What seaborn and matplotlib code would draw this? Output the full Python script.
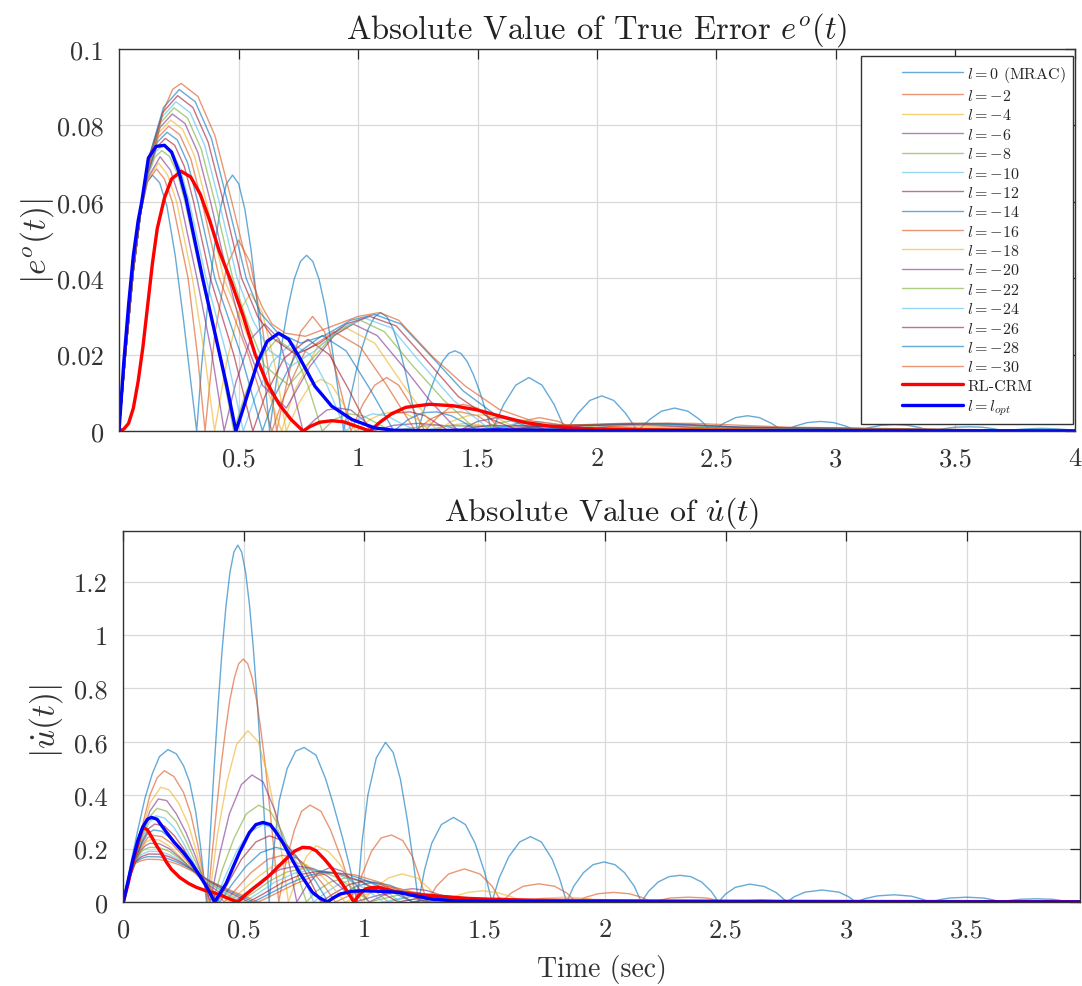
import matplotlib
matplotlib.use("Agg")
import numpy as np
import matplotlib.pyplot as plt
from matplotlib.lines import Line2D
from matplotlib.legend_handler import HandlerLine2D
import seaborn as sns
import pandas as pd

# ---------------- data ----------------
LEVELS = [0, -2, -4, -6, -8, -10, -12, -14, -16, -18, -20, -22, -24, -26, -28, -30]
LEGEND_LABELS = [r"$l = 0$ (MRAC)"] + [r"$l = %d$" % v for v in LEVELS[1:]] + ["RL-CRM", r"$l = l_{opt}$"]
CYCLE = ["#0072BD", "#D95319", "#EDB120", "#7E2F8E", "#77AC30", "#4DBEEE", "#A2142F"]

# |e^o(t)| curves (t, value)
E_L0 = [(0,0),(0.03,0.022),(0.06,0.042),(0.09,0.057),(0.115,0.065),(0.14,0.067),(0.17,0.065),(0.20,0.059),(0.235,0.046),(0.27,0.029),(0.30,0.013),(0.325,0),
        (0.3458,0.0173),(0.3717,0.0335),(0.3975,0.0474),(0.4233,0.058),(0.4492,0.0647),(0.475,0.067),(0.5008,0.0647),(0.5267,0.058),(0.5525,0.0474),(0.5783,0.0335),(0.6042,0.0173),(0.63,0),
        (0.6558,0.0119),(0.6817,0.023),(0.7075,0.0325),(0.7333,0.0398),(0.7592,0.0444),(0.785,0.046),(0.8108,0.0444),(0.8367,0.0398),(0.8625,0.0325),(0.8883,0.023),(0.9142,0.0119),(0.94,0),
        (0.9658,0.008),(0.9917,0.0155),(1.0175,0.0219),(1.0433,0.0268),(1.0692,0.0299),(1.095,0.031),(1.1208,0.0299),(1.1467,0.0268),(1.1725,0.0219),(1.1983,0.0155),(1.2242,0.008),(1.25,0),
        (1.2758,0.0054),(1.3017,0.0105),(1.3275,0.0148),(1.3533,0.0182),(1.3792,0.0203),(1.405,0.021),(1.4308,0.0203),(1.4567,0.0182),(1.4825,0.0148),(1.5083,0.0105),(1.5342,0.0054),(1.56,0),
        (1.61,0.007),(1.66,0.012),(1.715,0.014),(1.77,0.012),(1.82,0.007),(1.87,0),
        (1.92,0.0046),(1.97,0.008),(2.02,0.0092),(2.07,0.008),(2.12,0.0046),(2.17,0),
        (2.22,0.003),(2.27,0.0052),(2.325,0.006),(2.38,0.0052),(2.43,0.003),(2.48,0),
        (2.53,0.002),(2.58,0.0035),(2.63,0.004),(2.68,0.0035),(2.73,0.002),(2.78,0),
        (2.83,0.0013),(2.88,0.0022),(2.935,0.0025),(2.99,0.0022),(3.04,0.0013),(3.09,0),
        (3.14,0.0009),(3.19,0.0015),(3.245,0.0017),(3.30,0.0015),(3.35,0.0009),(3.40,0),
        (3.45,0.0006),(3.50,0.001),(3.555,0.0011),(3.61,0.001),(3.66,0.0006),(3.71,0),
        (3.76,0.0004),(3.81,0.0006),(3.86,0.0007),(3.91,0.0006),(3.96,0.0004),(4.0,0.0002)]
E_L2 = [(0,0),(0.03,0.022),(0.06,0.042),(0.09,0.057),(0.12,0.0654),(0.157,0.0686),(0.19,0.066),(0.223,0.06),(0.289,0.04),(0.328,0.02),(0.36,0),
        (0.40,0.025),(0.45,0.043),(0.50,0.050),(0.55,0.044),(0.60,0.027),(0.66,0),(0.71,0.015),(0.76,0.026),(0.81,0.030),(0.86,0.026),(0.91,0.015),(0.97,0),
        (1.02,0.007),(1.07,0.012),(1.12,0.014),(1.17,0.012),(1.22,0.007),(1.28,0),(1.33,0.0035),(1.38,0.006),(1.44,0.007),(1.50,0.006),(1.55,0.0035),(1.60,0),
        (1.68,0.0025),(1.76,0.0035),(1.84,0.0025),(1.92,0),(2.05,0.0012),(2.2,0.0015),(2.35,0.001),(2.5,0.0005),(3.0,0.0002),(4.0,0)]
E_L4 = [(0,0),(0.03,0.022),(0.06,0.042),(0.09,0.057),(0.12,0.0658),(0.165,0.0702),(0.203,0.0671),(0.241,0.06),(0.307,0.04),(0.358,0.02),(0.40,0),
        (0.45,0.018),(0.50,0.031),(0.55,0.036),(0.60,0.031),(0.65,0.018),(0.70,0),(0.75,0.007),(0.80,0.012),(0.845,0.0135),(0.89,0.012),(0.94,0.007),(0.99,0),
        (1.05,0.003),(1.10,0.0045),(1.15,0.005),(1.2,0.0045),(1.25,0.003),(1.30,0),(1.38,0.0015),(1.45,0.002),(1.52,0.0015),(1.6,0),(1.8,0.0008),(2.2,0.0005),(4.0,0)]
E_L6 = [(0,0),(0.03,0.022),(0.06,0.042),(0.09,0.057),(0.12,0.0662),(0.172,0.0718),(0.215,0.0683),(0.258,0.06),(0.326,0.04),(0.389,0.02),(0.44,0),
        (0.49,0.013),(0.55,0.024),(0.61,0.028),(0.67,0.024),(0.72,0.013),(0.77,0),(0.82,0.003),(0.87,0.0055),(0.92,0.006),(0.97,0.0055),(1.02,0.003),(1.06,0),
        (1.15,0.0015),(1.25,0.002),(1.35,0.0015),(1.45,0),(1.8,0.0008),(4.0,0)]
E_L8 = [(0,0),(0.03,0.022),(0.06,0.042),(0.09,0.057),(0.12,0.0666),(0.15,0.0717),(0.179,0.0734),(0.211,0.0719),(0.244,0.0675),(0.276,0.06),(0.345,0.04),(0.419,0.02),(0.48,0),
        (0.53,0.010),(0.59,0.019),(0.66,0.024),(0.73,0.021),(0.79,0.012),(0.85,0),(0.90,0.003),(0.96,0.0045),(1.02,0.004),(1.08,0.002),(1.14,0),
        (1.3,0.0015),(1.5,0.0012),(1.8,0.0005),(4.0,0)]
E_L10 = [(0,0),(0.03,0.022),(0.06,0.042),(0.09,0.057),(0.12,0.067),(0.153,0.073),(0.186,0.075),(0.222,0.0733),(0.258,0.0684),(0.294,0.06),(0.364,0.04),(0.45,0.02),(0.52,0),
         (0.57,0.009),(0.64,0.018),(0.72,0.023),(0.80,0.020),(0.87,0.012),(0.95,0),(1.0,0.003),(1.06,0.0045),(1.12,0.004),(1.18,0.002),(1.25,0),
         (1.4,0.0015),(1.6,0.0012),(1.9,0.0005),(4.0,0)]
E_L12 = [(0,0),(0.03,0.022),(0.06,0.042),(0.09,0.057),(0.12,0.0674),(0.157,0.0743),(0.194,0.0766),(0.233,0.0748),(0.273,0.0693),(0.312,0.06),(0.382,0.04),(0.48,0.02),(0.56,0),
         (0.61,0.009),(0.69,0.019),(0.79,0.024),(0.88,0.020),(0.96,0.011),(1.05,0),(1.10,0.003),(1.16,0.0048),(1.22,0.005),(1.28,0.004),(1.33,0.002),(1.38,0),
         (1.55,0.0015),(1.75,0.0012),(2.0,0.0006),(4.0,0)]
E_L14 = [(0,0),(0.03,0.022),(0.06,0.042),(0.09,0.057),(0.12,0.0678),(0.16,0.0756),(0.201,0.0782),(0.244,0.0762),(0.287,0.0702),(0.330,0.06),(0.401,0.04),(0.51,0.02),(0.60,0),
         (0.65,0.009),(0.74,0.020),(0.85,0.025),(0.95,0.021),(1.05,0.011),(1.15,0),(1.21,0.003),(1.27,0.0048),(1.33,0.005),(1.39,0.004),(1.45,0.002),(1.50,0),
         (1.65,0.0015),(1.85,0.0012),(2.1,0.0006),(4.0,0)]
E_L16 = [(0,0),(0.03,0.022),(0.06,0.042),(0.09,0.057),(0.12,0.0682),(0.164,0.0769),(0.208,0.0798),(0.254,0.0776),(0.301,0.0711),(0.347,0.06),(0.42,0.04),(0.541,0.02),(0.64,0),
         (0.69,0.009),(0.78,0.021),(0.90,0.026),(1.01,0.022),(1.12,0.012),(1.24,0),(1.30,0.003),(1.36,0.0048),(1.43,0.005),(1.50,0.004),(1.55,0.002),(1.60,0),
         (1.75,0.0015),(1.95,0.0015),(2.2,0.0007),(4.0,0)]
E_L18 = [(0,0),(0.03,0.022),(0.06,0.042),(0.09,0.057),(0.12,0.0686),(0.168,0.0782),(0.216,0.0814),(0.266,0.079),(0.316,0.072),(0.365,0.06),(0.438,0.04),(0.571,0.02),(0.68,0),
         (0.73,0.01),(0.83,0.022),(0.95,0.027),(1.07,0.023),(1.19,0.012),(1.33,0),(1.39,0.0025),(1.46,0.004),(1.52,0.0042),(1.58,0.0035),(1.64,0.0015),(1.70,0),
         (1.85,0.0015),(2.05,0.0018),(2.3,0.0008),(4.0,0)]
E_L20 = [(0,0),(0.03,0.022),(0.06,0.042),(0.09,0.057),(0.12,0.069),(0.172,0.0795),(0.223,0.083),(0.276,0.0805),(0.33,0.0729),(0.383,0.06),(0.457,0.04),(0.52,0.025),(0.60,0.012),
         (0.70,0.006),(0.80,0.017),(0.90,0.025),(0.98,0.028),(1.08,0.025),(1.2,0.016),(1.3,0.008),(1.42,0),(1.50,0.0025),(1.58,0.0035),(1.66,0.003),(1.73,0.0015),
         (1.80,0),(1.95,0.0015),(2.15,0.002),(2.4,0.001),(4.0,0)]
E_L22 = [(0,0),(0.03,0.022),(0.06,0.042),(0.09,0.057),(0.12,0.0694),(0.175,0.0808),(0.230,0.0846),(0.287,0.0819),(0.344,0.0738),(0.401,0.06),(0.476,0.04),(0.54,0.028),(0.61,0.017),
         (0.71,0.012),(0.81,0.019),(0.91,0.026),(1.01,0.029),(1.11,0.026),(1.23,0.017),(1.36,0.008),(1.50,0),(1.58,0.002),(1.67,0.003),(1.76,0.002),(1.85,0),
         (2.0,0.0015),(2.2,0.002),(2.5,0.001),(4.0,0)]
E_L24 = [(0,0),(0.03,0.022),(0.06,0.042),(0.09,0.057),(0.12,0.0698),(0.179,0.0821),(0.238,0.0862),(0.298,0.0833),(0.359,0.0747),(0.419,0.06),(0.494,0.04),(0.56,0.029),(0.63,0.021),
         (0.72,0.017),(0.82,0.021),(0.93,0.027),(1.03,0.0295),(1.14,0.027),(1.26,0.018),(1.40,0.008),(1.56,0),(1.65,0.0018),(1.75,0.0025),(1.85,0.0015),(1.92,0),
         (2.05,0.0015),(2.25,0.002),(2.55,0.001),(4.0,0)]
E_L26 = [(0,0),(0.03,0.022),(0.06,0.042),(0.09,0.057),(0.12,0.0702),(0.183,0.0834),(0.245,0.0878),(0.309,0.0847),(0.373,0.0756),(0.437,0.06),(0.513,0.04),(0.58,0.030),(0.65,0.024),
         (0.74,0.020),(0.84,0.023),(0.95,0.028),(1.05,0.030),(1.16,0.0275),(1.28,0.019),(1.42,0.009),(1.56,0.003),(1.66,0.0005),(1.80,0.0015),(2.0,0.0015),
         (2.3,0.002),(2.6,0.001),(4.0,0)]
E_L28 = [(0,0),(0.03,0.022),(0.06,0.042),(0.09,0.057),(0.12,0.0706),(0.186,0.0847),(0.252,0.0894),(0.319,0.0862),(0.387,0.0765),(0.454,0.06),(0.532,0.04),(0.59,0.031),(0.66,0.026),
         (0.76,0.023),(0.86,0.025),(0.97,0.029),(1.07,0.0305),(1.18,0.028),(1.30,0.02),(1.44,0.0105),(1.58,0.004),(1.72,0.001),(1.9,0.0015),(2.2,0.002),(2.6,0.001),(4.0,0)]
E_L30 = [(0,0),(0.03,0.022),(0.06,0.042),(0.09,0.057),(0.12,0.071),(0.15,0.076),(0.19,0.0845),(0.225,0.0895),(0.26,0.091),(0.33,0.0876),(0.401,0.0774),(0.472,0.06),(0.55,0.04),(0.598,0.0326),
         (0.64,0.028),(0.696,0.0256),(0.78,0.0248),(0.89,0.0274),(1.0,0.030),(1.09,0.031),(1.17,0.029),(1.31,0.0196),(1.45,0.0117),(1.59,0.0057),(1.73,0.0026),
         (1.87,0.0015),(2.1,0.002),(2.4,0.002),(2.8,0.001),(4.0,0)]
E_RL = [(0,0),(0.02,0.0005),(0.04,0.002),(0.06,0.006),(0.08,0.013),(0.10,0.022),(0.12,0.033),(0.14,0.044),(0.16,0.053),(0.19,0.061),(0.22,0.066),(0.26,0.068),
        (0.30,0.0665),(0.34,0.062),(0.38,0.055),(0.42,0.047),(0.47,0.039),(0.52,0.030),(0.57,0.020),(0.62,0.0125),(0.67,0.007),(0.72,0.003),(0.77,0),
        (0.80,0.0012),(0.84,0.0023),(0.89,0.0027),(0.94,0.0024),(0.99,0.0013),(1.05,0),(1.09,0.0022),(1.14,0.0045),(1.20,0.0062),(1.30,0.0070),(1.40,0.0066),
        (1.50,0.0055),(1.60,0.0038),(1.70,0.0022),(1.80,0.0013),(1.90,0.0008),(2.0,0.0005),(2.3,0.0002),(2.8,0.0001),(4.0,0)]
E_OPT = [(0,0),(0.02,0.018),(0.04,0.033),(0.06,0.046),(0.08,0.055),(0.095,0.060),(0.123,0.0715),(0.155,0.0745),(0.19,0.0748),(0.22,0.073),(0.25,0.068),(0.28,0.061),
         (0.31,0.052),(0.35,0.040),(0.40,0.026),(0.45,0.012),(0.489,0),(0.51,0.004),(0.54,0.010),(0.58,0.018),(0.62,0.0235),(0.668,0.0256),(0.71,0.024),(0.752,0.0196),
         (0.82,0.0117),(0.89,0.0065),(0.975,0.003),(1.07,0.0008),(1.15,0.0002),(1.3,0.0001),(1.6,0.0003),(2.0,0.0001),(4.0,0)]

# |u_dot(t)| curves (t, value)
U_L0 = [(0,0),(0.03,0.14),(0.06,0.27),(0.09,0.39),(0.12,0.48),(0.15,0.545),(0.185,0.571),(0.22,0.555),(0.25,0.51),(0.275,0.45),(0.30,0.34),(0.32,0.21),(0.345,0),
        (0.36125,0.261),(0.3775,0.512),(0.39375,0.743),(0.41,0.945),(0.42625,1.111),(0.4425,1.235),(0.45875,1.311),(0.475,1.337),
        (0.49125,1.311),(0.5075,1.235),(0.52375,1.111),(0.54,0.945),(0.55625,0.743),(0.5725,0.512),(0.58875,0.261),(0.605,0),
        (0.625,0.2),(0.647,0.38),(0.68,0.50),(0.715,0.565),(0.75,0.579),(0.80,0.55),(0.84,0.46),(0.87,0.37),(0.91,0.24),(0.94,0.13),(0.97,0),
        (0.99,0.22),(1.015,0.40),(1.05,0.54),(1.088,0.598),(1.12,0.56),(1.15,0.46),(1.18,0.30),(1.205,0.14),(1.225,0),
        (1.25,0.12),(1.28,0.22),(1.32,0.29),(1.37,0.317),(1.42,0.29),(1.46,0.22),(1.50,0.11),(1.53,0),
        (1.56,0.09),(1.60,0.17),(1.645,0.225),(1.69,0.245),(1.735,0.225),(1.78,0.16),(1.81,0.09),(1.84,0),
        (1.87,0.06),(1.91,0.11),(1.95,0.14),(1.995,0.15),(2.04,0.14),(2.08,0.11),(2.12,0.06),(2.15,0),
        (2.18,0.04),(2.22,0.075),(2.265,0.095),(2.31,0.10),(2.355,0.095),(2.40,0.075),(2.44,0.04),(2.47,0),
        (2.50,0.03),(2.54,0.055),(2.60,0.067),(2.66,0.058),(2.71,0.035),(2.755,0),
        (2.785,0.02),(2.83,0.037),(2.90,0.045),(2.97,0.037),(3.01,0.02),(3.04,0),
        (3.08,0.013),(3.13,0.023),(3.20,0.027),(3.27,0.022),(3.31,0.012),(3.35,0),
        (3.39,0.009),(3.43,0.015),(3.50,0.018),(3.57,0.015),(3.61,0.008),(3.64,0),
        (3.68,0.006),(3.72,0.01),(3.79,0.012),(3.86,0.01),(3.89,0.006),(3.92,0),(3.97,0.005)]
U_L2 = [(0,0),(0.025,0.09),(0.05,0.17),(0.08,0.29),(0.11,0.40),(0.14,0.465),(0.17,0.492),(0.21,0.47),(0.25,0.41),(0.28,0.33),(0.31,0.21),(0.33,0.11),(0.35,0),
        (0.368,0.177),(0.387,0.35),(0.405,0.506),(0.424,0.643),(0.442,0.756),(0.461,0.841),(0.479,0.893),(0.4975,0.91),
        (0.516,0.893),(0.534,0.841),(0.553,0.756),(0.571,0.643),(0.59,0.506),(0.608,0.35),(0.627,0.177),(0.645,0),
        (0.675,0.15),(0.71,0.27),(0.74,0.34),(0.775,0.363),(0.82,0.34),(0.86,0.27),(0.91,0.15),(0.96,0),
        (0.99,0.10),(1.03,0.19),(1.07,0.24),(1.113,0.251),(1.16,0.23),(1.20,0.17),(1.23,0.09),(1.26,0),
        (1.30,0.06),(1.35,0.105),(1.416,0.124),(1.48,0.105),(1.53,0.06),(1.57,0),
        (1.61,0.034),(1.66,0.059),(1.725,0.068),(1.79,0.059),(1.84,0.034),(1.88,0),
        (1.92,0.018),(1.97,0.031),(2.035,0.036),(2.10,0.031),(2.15,0.018),(2.19,0),
        (2.27,0.015),(2.345,0.018),(2.42,0.015),(2.5,0),(2.65,0.008),(2.8,0),(2.95,0.004),(3.1,0),(3.97,0.001)]
U_L4 = [(0,0),(0.025,0.09),(0.05,0.16),(0.08,0.27),(0.11,0.37),(0.155,0.43),(0.19,0.42),(0.23,0.37),(0.27,0.29),(0.30,0.20),(0.33,0.10),(0.355,0),
        (0.39,0.25),(0.43,0.45),(0.47,0.59),(0.517,0.642),(0.56,0.6),(0.60,0.47),(0.645,0.26),(0.685,0),
        (0.72,0.09),(0.76,0.17),(0.80,0.211),(0.85,0.19),(0.90,0.14),(0.95,0.07),(0.99,0),
        (1.04,0.05),(1.10,0.09),(1.157,0.105),(1.22,0.09),(1.27,0.05),(1.32,0),
        (1.37,0.02),(1.43,0.036),(1.49,0.042),(1.55,0.036),(1.61,0.02),(1.66,0),
        (1.74,0.014),(1.83,0.018),(1.92,0.014),(2.0,0),(2.15,0.006),(2.3,0),(3.97,0.001)]
U_L6 = [(0,0),(0.025,0.09),(0.05,0.16),(0.08,0.26),(0.11,0.34),(0.145,0.386),(0.18,0.38),(0.22,0.33),(0.26,0.26),(0.30,0.17),(0.33,0.09),(0.36,0),
        (0.40,0.18),(0.44,0.33),(0.49,0.44),(0.534,0.476),(0.58,0.45),(0.63,0.34),(0.68,0.18),(0.72,0),
        (0.76,0.06),(0.81,0.11),(0.86,0.13),(0.91,0.115),(0.97,0.06),(1.02,0),
        (1.08,0.025),(1.14,0.043),(1.2,0.05),(1.26,0.043),(1.32,0.025),(1.38,0),
        (1.48,0.01),(1.56,0.015),(1.65,0.01),(1.75,0),(3.97,0.001)]
U_L8 = [(0,0),(0.025,0.09),(0.05,0.155),(0.08,0.25),(0.11,0.32),(0.14,0.351),(0.18,0.34),(0.22,0.30),(0.26,0.23),(0.30,0.15),(0.34,0.07),(0.37,0),
        (0.41,0.12),(0.46,0.24),(0.51,0.33),(0.562,0.363),(0.61,0.34),(0.66,0.26),(0.71,0.14),(0.76,0),
        (0.8,0.04),(0.86,0.075),(0.92,0.09),(0.98,0.08),(1.04,0.045),(1.1,0),
        (1.19,0.02),(1.27,0.03),(1.36,0.02),(1.45,0),(1.6,0.006),(3.97,0.001)]
U_L10 = [(0,0),(0.025,0.09),(0.05,0.155),(0.08,0.24),(0.105,0.295),(0.135,0.323),(0.17,0.315),(0.21,0.28),(0.25,0.22),(0.29,0.15),(0.33,0.08),(0.38,0),
         (0.42,0.09),(0.47,0.19),(0.52,0.26),(0.58,0.29),(0.64,0.27),(0.69,0.2),(0.74,0.11),(0.79,0),
         (0.84,0.035),(0.90,0.07),(0.96,0.085),(1.03,0.07),(1.09,0.04),(1.15,0),
         (1.24,0.016),(1.32,0.025),(1.41,0.016),(1.5,0),(1.65,0.005),(3.97,0.001)]
U_L12 = [(0,0),(0.025,0.09),(0.05,0.155),(0.08,0.23),(0.105,0.275),(0.13,0.292),(0.17,0.285),(0.21,0.25),(0.25,0.2),(0.29,0.14),(0.33,0.085),(0.36,0.045),(0.39,0),
         (0.44,0.08),(0.49,0.16),(0.55,0.225),(0.606,0.248),(0.66,0.23),(0.72,0.17),(0.77,0.09),(0.82,0),
         (0.87,0.03),(0.94,0.066),(1.0,0.08),(1.07,0.066),(1.14,0.035),(1.2,0),
         (1.28,0.013),(1.37,0.02),(1.46,0.013),(1.55,0),(1.7,0.004),(3.97,0.001)]
U_L14 = [(0,0),(0.025,0.09),(0.05,0.155),(0.075,0.215),(0.10,0.255),(0.125,0.27),(0.16,0.265),(0.20,0.235),(0.24,0.19),(0.28,0.14),(0.32,0.09),(0.36,0.05),(0.40,0),
         (0.45,0.065),(0.51,0.135),(0.57,0.185),(0.634,0.205),(0.69,0.19),(0.75,0.14),(0.80,0.075),(0.85,0),
         (0.91,0.03),(0.97,0.06),(1.04,0.075),(1.11,0.062),(1.18,0.033),(1.25,0),
         (1.33,0.011),(1.42,0.017),(1.51,0.011),(1.6,0),(1.75,0.004),(3.97,0.001)]
U_L16 = [(0,0),(0.025,0.09),(0.05,0.155),(0.075,0.205),(0.10,0.24),(0.12,0.25),(0.16,0.245),(0.20,0.22),(0.24,0.18),(0.28,0.135),(0.32,0.09),(0.37,0.045),(0.42,0),
         (0.47,0.05),(0.53,0.11),(0.60,0.16),(0.66,0.175),(0.72,0.165),(0.78,0.12),(0.83,0.065),(0.88,0),
         (0.94,0.025),(1.01,0.05),(1.08,0.06),(1.15,0.05),(1.23,0.025),(1.3,0),
         (1.4,0.01),(1.5,0.014),(1.6,0.008),(1.7,0),(3.97,0.001)]
U_L18 = [(0,0),(0.025,0.09),(0.05,0.155),(0.075,0.2),(0.095,0.225),(0.115,0.235),(0.15,0.232),(0.19,0.21),(0.23,0.175),(0.27,0.135),(0.31,0.095),(0.36,0.05),(0.44,0),
         (0.49,0.04),(0.56,0.095),(0.62,0.135),(0.69,0.15),(0.76,0.14),(0.82,0.1),(0.87,0.055),(0.92,0),
         (0.98,0.02),(1.05,0.042),(1.12,0.05),(1.19,0.042),(1.27,0.02),(1.34,0),
         (1.45,0.008),(1.55,0.011),(1.65,0.006),(1.75,0),(3.97,0.001)]
U_L20 = [(0,0),(0.025,0.09),(0.05,0.155),(0.075,0.195),(0.09,0.21),(0.11,0.22),(0.15,0.218),(0.19,0.2),(0.23,0.17),(0.27,0.135),(0.31,0.1),(0.36,0.06),(0.41,0.03),(0.46,0),
         (0.51,0.035),(0.58,0.085),(0.65,0.122),(0.72,0.135),(0.79,0.125),(0.85,0.095),(0.91,0.05),(0.96,0),
         (1.03,0.018),(1.10,0.035),(1.16,0.04),(1.23,0.034),(1.31,0.016),(1.38,0),
         (1.5,0.006),(1.6,0.008),(1.7,0.004),(1.8,0),(3.97,0.001)]
U_L22 = [(0,0),(0.025,0.09),(0.05,0.155),(0.075,0.188),(0.09,0.198),(0.11,0.205),(0.15,0.203),(0.19,0.19),(0.23,0.165),(0.27,0.135),(0.31,0.105),(0.36,0.068),(0.42,0.034),(0.48,0),
         (0.54,0.035),(0.61,0.08),(0.68,0.113),(0.75,0.125),(0.82,0.117),(0.89,0.09),(0.96,0.048),(1.02,0),
         (1.09,0.015),(1.15,0.028),(1.21,0.032),(1.28,0.027),(1.35,0.013),(1.42,0),
         (1.55,0.005),(1.65,0.006),(1.75,0.003),(1.85,0),(3.97,0.001)]
U_L24 = [(0,0),(0.025,0.09),(0.05,0.152),(0.075,0.178),(0.105,0.19),(0.15,0.189),(0.19,0.178),(0.23,0.158),(0.27,0.133),(0.31,0.106),(0.36,0.072),(0.42,0.038),(0.50,0),
         (0.56,0.033),(0.63,0.075),(0.71,0.108),(0.78,0.12),(0.86,0.112),(0.94,0.085),(1.01,0.045),(1.08,0),
         (1.14,0.012),(1.2,0.022),(1.26,0.026),(1.33,0.022),(1.40,0.011),(1.46,0),
         (1.6,0.004),(1.7,0.005),(1.8,0.002),(1.9,0),(3.97,0.001)]
U_L26 = [(0,0),(0.025,0.09),(0.05,0.15),(0.075,0.17),(0.105,0.18),(0.15,0.179),(0.19,0.17),(0.23,0.153),(0.27,0.131),(0.31,0.107),(0.36,0.076),(0.43,0.04),(0.52,0),
         (0.58,0.03),(0.66,0.073),(0.74,0.104),(0.81,0.115),(0.89,0.107),(0.98,0.08),(1.06,0.042),(1.14,0),
         (1.2,0.01),(1.25,0.017),(1.31,0.02),(1.38,0.017),(1.44,0.009),(1.5,0),
         (1.65,0.003),(1.75,0.004),(1.85,0.002),(1.95,0),(3.97,0.001)]
U_L28 = [(0,0),(0.025,0.09),(0.05,0.148),(0.075,0.163),(0.10,0.17),(0.15,0.169),(0.19,0.161),(0.23,0.147),(0.27,0.128),(0.31,0.107),(0.36,0.078),(0.44,0.041),(0.54,0),
         (0.60,0.028),(0.69,0.07),(0.77,0.1),(0.84,0.112),(0.93,0.104),(1.02,0.077),(1.11,0.04),(1.2,0),
         (1.27,0.008),(1.32,0.013),(1.37,0.015),(1.43,0.012),(1.49,0.006),(1.55,0),
         (1.7,0.002),(1.85,0.003),(2.0,0.001),(3.97,0.0005)]
U_L30 = [(0,0),(0.025,0.09),(0.05,0.145),(0.075,0.155),(0.10,0.16),(0.15,0.159),(0.19,0.152),(0.23,0.14),(0.27,0.123),(0.31,0.104),(0.36,0.078),(0.45,0.042),(0.56,0),
         (0.62,0.026),(0.71,0.066),(0.79,0.097),(0.87,0.11),(0.96,0.102),(1.06,0.075),(1.16,0.038),(1.26,0),
         (1.32,0.006),(1.37,0.01),(1.43,0.012),(1.49,0.01),(1.55,0.005),(1.6,0),
         (1.75,0.002),(1.9,0.002),(2.05,0.001),(3.97,0.0005)]
U_RL = [(0,0),(0.02,0.07),(0.04,0.15),(0.06,0.22),(0.075,0.265),(0.083,0.28),(0.10,0.27),(0.12,0.24),(0.138,0.211),(0.16,0.18),(0.179,0.149),(0.2,0.122),
        (0.234,0.092),(0.27,0.07),(0.303,0.055),(0.34,0.043),(0.372,0.036),(0.40,0.027),(0.427,0.017),(0.45,0.008),(0.475,0),
        (0.505,0.025),(0.537,0.049),(0.57,0.072),(0.606,0.099),(0.64,0.13),(0.675,0.161),(0.71,0.19),(0.744,0.205),(0.775,0.203),(0.80,0.192),
        (0.835,0.16),(0.868,0.124),(0.895,0.086),(0.923,0.049),(0.94,0.025),(0.957,0),
        (0.98,0.028),(1.005,0.049),(1.03,0.054),(1.055,0.055),(1.09,0.048),(1.143,0.036),(1.21,0.029),(1.28,0.024),(1.35,0.019),(1.42,0.014),
        (1.5,0.011),(1.556,0.009),(1.7,0.007),(1.85,0.006),(2.0,0.005),(2.2,0.004),(2.5,0.003),(3.0,0.002),(3.5,0.0015),(3.97,0.001)]
U_OPT = [(0,0),(0.02,0.08),(0.04,0.16),(0.06,0.23),(0.08,0.28),(0.10,0.31),(0.117,0.317),(0.14,0.31),(0.16,0.285),(0.18,0.26),(0.21,0.225),(0.25,0.185),
         (0.28,0.15),(0.317,0.099),(0.35,0.05),(0.379,0),
         (0.40,0.03),(0.427,0.07),(0.455,0.13),(0.482,0.186),(0.523,0.26),(0.55,0.29),(0.579,0.298),(0.61,0.29),(0.635,0.26),(0.661,0.223),(0.70,0.16),
         (0.73,0.111),(0.76,0.07),(0.785,0.036),(0.815,0.015),(0.847,0),
         (0.87,0.015),(0.9,0.03),(0.95,0.04),(0.99,0.042),(1.04,0.041),(1.09,0.039),(1.143,0.036),(1.2,0.025),(1.28,0.011),(1.36,0.005),(1.5,0.003),
         (1.7,0.002),(2.0,0.001),(3.97,0.0)]

E_THIN = [E_L0, E_L2, E_L4, E_L6, E_L8, E_L10, E_L12, E_L14, E_L16, E_L18, E_L20, E_L22, E_L24, E_L26, E_L28, E_L30]
U_THIN = [U_L0, U_L2, U_L4, U_L6, U_L8, U_L10, U_L12, U_L14, U_L16, U_L18, U_L20, U_L22, U_L24, U_L26, U_L28, U_L30]

TOP_XTICKS = [0.5, 1, 1.5, 2, 2.5, 3, 3.5, 4]
TOP_XLABELS = ["0.5", "1", "1.5", "2", "2.5", "3", "3.5", "4"]
TOP_YTICKS = [0, 0.02, 0.04, 0.06, 0.08, 0.1]
TOP_YLABELS = ["0", "0.02", "0.04", "0.06", "0.08", "0.1"]
BOT_XTICKS = [0, 0.5, 1, 1.5, 2, 2.5, 3, 3.5]
BOT_XLABELS = ["0", "0.5", "1", "1.5", "2", "2.5", "3", "3.5"]
BOT_YTICKS = [0, 0.2, 0.4, 0.6, 0.8, 1.0, 1.2]
BOT_YLABELS = ["0", "0.2", "0.4", "0.6", "0.8", "1", "1.2"]

# ---------------- style ----------------
sns.set_style("white")
plt.rcParams.update({
    "font.family": "serif",
    "font.serif": ["cmr10"],
    "mathtext.fontset": "cm",
    "axes.formatter.use_mathtext": True,
    "axes.unicode_minus": False,
})

fig = plt.figure(figsize=(10.82, 9.87), dpi=100)
ax1 = fig.add_axes([0.110, 0.5623, 0.8835, 0.3870])
ax2 = fig.add_axes([0.114, 0.0851, 0.8840, 0.3759])


def draw(ax, pts, color, lw, alpha, label):
    df = pd.DataFrame(pts, columns=["t", "v"])
    sns.lineplot(data=df, x="t", y="v", ax=ax, color=color, linewidth=lw, alpha=alpha,
                 sort=False, estimator=None, label=label, legend=False)


for ax, thin, rl, opt in [(ax1, E_THIN, E_RL, E_OPT), (ax2, U_THIN, U_RL, U_OPT)]:
    for k, pts in enumerate(thin):
        draw(ax, pts, CYCLE[k % 7], 1.0, 0.6, LEGEND_LABELS[k])
    draw(ax, rl, "#FF0000", 2.4, 1.0, LEGEND_LABELS[16])
    draw(ax, opt, "#0000FF", 2.4, 1.0, LEGEND_LABELS[17])

for ax in (ax1, ax2):
    ax.grid(True, color="#d9d9d9", linewidth=0.9)
    ax.set_axisbelow(True)
    for s in ax.spines.values():
        s.set_color("#333333")
        s.set_linewidth(1.0)
    ax.tick_params(direction="in", length=7, width=0.9, colors="#262626", labelsize=19,
                   top=True, right=True, labelcolor="#333333")
    ax.tick_params(axis="x", pad=11)
    ax.tick_params(axis="y", pad=11)

ax1.set_xlim(0, 4)
ax1.set_ylim(0, 0.1)
ax1.set_xticks(TOP_XTICKS)
ax1.set_xticklabels(TOP_XLABELS)
ax1.set_yticks(TOP_YTICKS)
ax1.set_yticklabels(TOP_YLABELS)
ax1.set_xlabel("")
ax1.set_ylabel(r"$|e^o(t)|$", fontsize=24, color="#333333")
ax1.yaxis.set_label_coords(-0.066, 0.5)
ax1.set_title(r"Absolute Value of True Error $e^o(t)$", fontsize=23.5, pad=8, color="#222222")

ax2.set_xlim(0, 3.97)
ax2.set_ylim(0, 1.39)
ax2.set_xticks(BOT_XTICKS)
ax2.set_xticklabels(BOT_XLABELS)
ax2.set_yticks(BOT_YTICKS)
ax2.set_yticklabels(BOT_YLABELS)
ax2.set_xlabel("Time (sec)", fontsize=20, color="#333333")
ax2.xaxis.set_label_coords(0.5, -0.14)
ax2.set_ylabel(r"$|\dot{u}(t)|$", fontsize=24, color="#333333")
ax2.yaxis.set_label_coords(-0.061, 0.49)
ax2.set_title(r"Absolute Value of $\dot{u}(t)$", fontsize=23, pad=8, color="#222222")


class ShiftedLine(HandlerLine2D):
    """Legend line drawn in the right part of the handle box (MATLAB-like spacing)."""
    def create_artists(self, *args, **kwargs):
        arts = super().create_artists(*args, **kwargs)
        for a in arts:
            x = np.asarray(a.get_xdata(), float)
            if x.size >= 2:
                a.set_xdata(x[0] + 0.36 * (x[-1] - x[0]) + (x - x[0]) * 0.64)
        return arts


handles, labels = ax1.get_legend_handles_labels()
leg = ax1.legend(handles, labels, loc="upper right", bbox_to_anchor=(1.0, 0.985), fontsize=11.5,
                 labelspacing=0.275, handlelength=5.9, handletextpad=0.3, borderpad=0.45,
                 borderaxespad=0.1, frameon=True, fancybox=False, framealpha=1.0,
                 handler_map={Line2D: ShiftedLine()})
leg.get_frame().set_edgecolor("#333333")
leg.get_frame().set_linewidth(1.0)

fig.savefig("out.png", dpi=100, facecolor="white")
